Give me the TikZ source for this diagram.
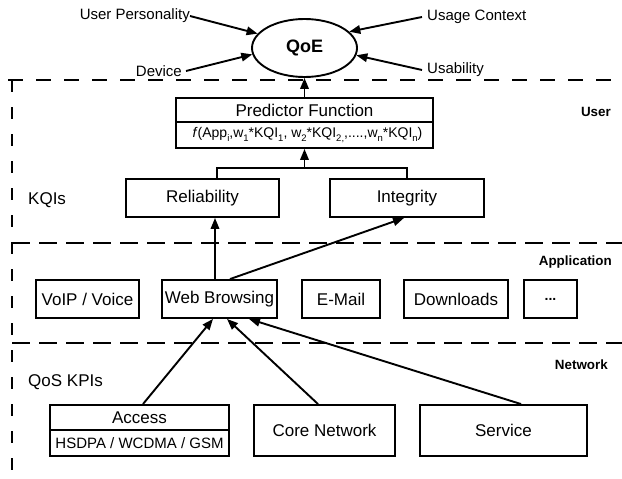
\documentclass[tikz,border=0pt]{standalone}
\usepackage{fontspec}
\setmainfont{Liberation Sans}
\usetikzlibrary{arrows.meta,shapes.geometric}
\newcommand\lowsub[1]{\raisebox{-4pt}{\fontsize{9.5}{10}\selectfont #1}}
\begin{document}
\begin{tikzpicture}[x=1pt,y=-1pt,
  box/.style={draw,line width=1.9pt,inner sep=0pt,font=\fontsize{17}{20}\selectfont},
  lbl/.style={inner sep=0pt,font=\fontsize{15}{18}\selectfont},
  big/.style={inner sep=0pt,font=\fontsize{17}{20}\selectfont},
  layer/.style={inner sep=0pt,font=\fontsize{13.4}{16}\selectfont\bfseries},
  arr/.style={line width=1.9pt,-{Triangle[length=11pt,width=8.5pt]}},
  ln/.style={line width=1.9pt},
  sepline/.style={line width=2.6pt,dash pattern=on 18pt off 9pt},
  topline/.style={line width=2.8pt,dash pattern=on 15pt off 13pt},
  vline/.style={line width=2.6pt,dash pattern=on 12pt off 15pt}
]
\useasboundingbox (0,0) rectangle (622,479);
\fill[white] (0,0) rectangle (622,479);

% layer separators
\draw[topline] (8,80) -- (622,80);
\draw[sepline] (12,243) -- (622,243);
\draw[sepline] (12,343) -- (622,343);
\draw[vline] (12,80) -- (12,479);

% layer labels
\node[layer,anchor=east] (luser) at (611,112) {User};
\node[layer,anchor=east] (lapp) at (612,262) {Application};
\node[layer,anchor=east] (lnet) at (608,365) {Network};
\node[big,anchor=west] (lkqi) at (28,200) {KQIs};
\node[big,anchor=west] (lkpi) at (28,382) {QoS KPIs};

% QoE
\node[ellipse,draw,line width=1.9pt,inner sep=0pt,minimum width=105pt,minimum height=58pt,
  font=\fontsize{18}{20}\selectfont\bfseries] (qoe) at (304.5,48) {QoE};
\node[lbl,anchor=east] (up) at (190,16) {User Personality};
\node[lbl,anchor=east,inner xsep=4pt] (dev) at (186,71) {Device};
\node[lbl,anchor=west,inner xsep=5pt] (uc) at (422,17) {Usage Context};
\node[lbl,anchor=west,inner xsep=5pt] (ua) at (422,70) {Usability};
\draw[arr] (up.east) -- (qoe.163);
\draw[arr] (dev.east) -- (qoe.187);
\draw[arr] (uc.west) -- (qoe.20);
\draw[arr] (ua.west) -- (qoe.-8);

% predictor
\node[box,minimum width=257pt,minimum height=24pt] (pf) at (304.5,110) {Predictor Function};
\node[box,minimum width=257pt,minimum height=26pt,font=\fontsize{14}{16}\selectfont] (pff) at (304.5,135)
  {\hspace*{6pt}\textit{f}(App\lowsub{i},w\lowsub{1}*KQI\lowsub{1}, w\lowsub{2}*KQI\lowsub{2,},....,w\lowsub{n}*KQI\lowsub{n})};
\draw[arr] (pf.north) -- (qoe.south);

% KQIs
\node[box,minimum width=153pt,minimum height=38pt] (rel) at (202.5,198) {Reliability};
\node[box,minimum width=154pt,minimum height=38pt] (int) at (407,198) {Integrity};
\coordinate (bl) at (217,168);
\coordinate (br) at (407,168);
\coordinate (bm) at (304.5,168);
\draw[ln] (bl |- rel.north) -- (bl) -- (br) -- (int.north);
\draw[arr] (bm) -- (pff.south);

% applications
\node[box,minimum width=103pt,minimum height=38pt] (voip) at (87.5,299) {VoIP / Voice};
\node[box,minimum width=115pt,minimum height=38pt] (web) at (219.5,299) {Web Browsing};
\node[box,minimum width=78pt,minimum height=38pt] (mail) at (341,299) {E-Mail};
\node[box,minimum width=104pt,minimum height=38pt] (dl) at (456,299) {Downloads};
\node[box,minimum width=53pt,minimum height=38pt,font=\fontsize{14}{16}\selectfont\bfseries] (more) at (550.5,299) {...};
\draw[arr] ([xshift=-4.5pt]web.north) -- ([xshift=-4.5pt]web.north |- rel.south);
\draw[arr] ([xshift=10.5pt]web.north) -- ([xshift=-3pt]int.south);

% network
\node[box,minimum width=179pt,minimum height=25pt] (acc) at (139.5,417.5) {Access};
\node[box,minimum width=179pt,minimum height=26pt,font=\fontsize{15}{17}\selectfont] (acc2) at (139.5,443) {HSDPA / WCDMA / GSM};
\node[box,minimum width=141pt,minimum height=51pt] (core) at (324.5,430.5) {Core Network};
\node[box,minimum width=167pt,minimum height=51pt] (svc) at (503.5,430.5) {Service};
\draw[arr] ([xshift=3.5pt]acc.north) -- ([xshift=-6.5pt]web.south);
\draw[arr] ([xshift=-6.5pt]core.north) -- ([xshift=7.5pt]web.south);
\draw[arr] ([xshift=17.5pt]svc.north) -- ([xshift=29.5pt]web.south);
\end{tikzpicture}
\end{document}
